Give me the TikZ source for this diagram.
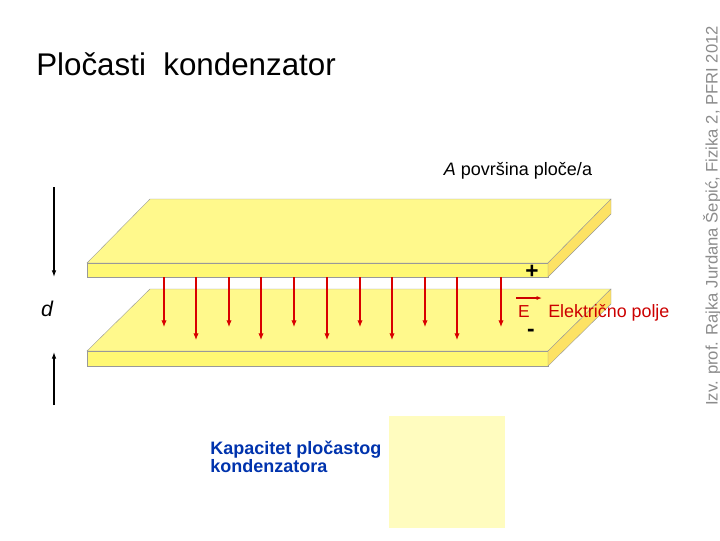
\documentclass[tikz,border=0pt]{standalone}
\usepackage{fontspec}
\setmainfont{Liberation Sans}
\usetikzlibrary{arrows.meta}
\begin{document}
\begin{tikzpicture}[x=0.75pt,y=-0.75pt,
  plate/.style={draw=black!40,fill=yellow!45,line width=0.3pt},
  fld/.style={draw=red!85!black,line width=0.8pt,-{Latex[length=5pt,width=4pt]}},
  darr/.style={line width=0.9pt,-{Latex[length=5pt,width=3.5pt]}}]
\useasboundingbox (0,0) rectangle (720,540);
% top plate
\path[plate] (87,263) -- (150,199) -- (611,199) -- (548,263) -- cycle;
\path[plate,fill=yellow!55] (87,263) rectangle (548,277);
\path[plate,fill=yellow!70!orange!60] (548,263) -- (611,199) -- (611,214) -- (548,277) -- cycle;
% bottom plate
\path[plate] (87,351) -- (150,289) -- (611,289) -- (548,351) -- cycle;
\path[plate,fill=yellow!55] (87,351) rectangle (548,366);
\path[plate,fill=yellow!70!orange!60] (548,351) -- (611,289) -- (611,304) -- (548,366) -- cycle;
% field arrows
\foreach \x/\e [count=\i] in {164/327,196/340,229/327,261/340,294/327,327/340,360/327,392/340,425/327,457/340,501/327}{
  \coordinate (s\i) at (\x,277); \coordinate (t\i) at (\x,\e);
  \draw[fld] (s\i) -- (t\i);}
% d arrows
\coordinate (d1) at (54,187); \coordinate (d2) at (54,277);
\coordinate (d3) at (54,405); \coordinate (d4) at (54,352);
\draw[darr] (d1) -- (d2);
\draw[darr] (d3) -- (d4);
\node (d) at (47,309) {\fontsize{16}{18}\selectfont\itshape d};
\node[inner sep=0pt] (plus) at (532,272) {\fontsize{17}{18}\selectfont\bfseries +};
\node[inner sep=0pt] (minus) at (531,333) {\fontsize{17}{18}\selectfont\bfseries -};
\node[text=red!80!black,inner sep=0pt] (E) at (524,312) {\fontsize{13}{14}\selectfont E};
\coordinate (ea) at (516,298); \coordinate (eb) at (542,298);
\draw[red!80!black,line width=0.8pt,-{Latex[length=4pt,width=3pt]}] (ea) -- (eb);
\node[text=red!80!black,anchor=west,inner sep=0pt] (ep) at (548,313) {\fontsize{13.4}{14}\selectfont Električno polje};
\node[anchor=west,inner sep=0pt] (title) at (36,64) {\fontsize{23.5}{26}\selectfont Pločasti\ \ kondenzator};
\node[inner sep=0pt] (A) at (518,171) {\fontsize{13.5}{15}\selectfont\textit{A} površina ploče/a};
\node[fill=yellow!25,minimum width=87pt,minimum height=84pt,inner sep=0pt] (box) at (447,472) {};
\node[anchor=north west,align=left,text=blue!60!black!80!cyan,font=\bfseries,inner sep=0pt] (kap) at (210,441) {\fontsize{13.5}{15}\selectfont Kapacitet pločastog\\\fontsize{13.5}{15}\selectfont kondenzatora};
\node[rotate=90,anchor=west,text=black!45,inner sep=0pt] (side) at (712,406) {\fontsize{12.5}{14}\selectfont Izv. prof. Rajka Jurdana Šepić, Fizika 2, PFRI 2012};
\end{tikzpicture}
\end{document}
